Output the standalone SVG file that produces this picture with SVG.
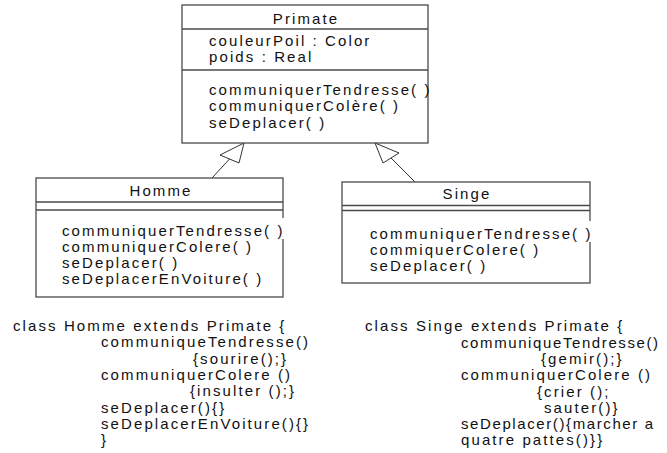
<svg xmlns="http://www.w3.org/2000/svg" width="667" height="453" viewBox="0 0 667 453">
  <style>
    .box { fill: #ffffff; stroke: #4a4a4a; stroke-width: 1.3; }
    .sep { stroke: #4a4a4a; stroke-width: 1.3; }
    .t { font-family: "Liberation Sans", Arial, sans-serif; font-size: 15px; letter-spacing: 2.1px; fill: #111111; }
    .c { text-anchor: middle; }
    .tight { letter-spacing: 1.6px; }
    .edge { fill: none; stroke: #333333; stroke-width: 1; }
    .head { fill: #ffffff; stroke: #333333; stroke-width: 1; }
    .mask { fill: #ffffff; }
  </style>
  <rect width="667" height="453" fill="#ffffff"/>

  <!-- generalisation arrows -->
  <g id="connectors">
    <line class="edge" x1="212" y1="178" x2="229.5" y2="159"/>
    <polygon class="head" points="244,143 220,155 239,163"/>
    <line class="edge" x1="415" y1="182" x2="391" y2="158"/>
    <polygon class="head" points="375,143 383,163 399,153"/>
  </g>

  <g id="primate">
    <rect class="box" x="182" y="5" width="246" height="138"/>
    <line class="sep" x1="182" y1="29" x2="428" y2="29"/>
    <line class="sep" x1="182" y1="70" x2="428" y2="70"/>
    <text class="t c" x="306" y="24">Primate</text>
    <text class="t" x="209" y="46">couleurPoil : Color</text>
    <text class="t" x="209" y="62">poids : Real</text>
    <text class="t" x="209" y="95">communiquerTendresse( )</text>
    <text class="t" x="209" y="111">communiquerColère( )</text>
    <text class="t" x="209" y="128">seDeplacer( )</text>
  </g>

  <g id="homme">
    <rect class="box" x="36" y="178" width="247" height="119"/>
    <line class="sep" x1="36" y1="202" x2="283" y2="202"/>
    <line class="sep" x1="36" y1="210" x2="283" y2="210"/>
    <rect class="mask" x="280" y="218" width="8" height="21"/>
    <text class="t c" x="161" y="196">Homme</text>
    <text class="t" x="62" y="236">communiquerTendresse( )</text>
    <text class="t" x="62" y="252">communiquerColere( )</text>
    <text class="t" x="62" y="268">seDeplacer( )</text>
    <text class="t" x="62" y="284">seDeplacerEnVoiture( )</text>
  </g>

  <g id="singe">
    <rect class="box" x="342" y="182" width="248" height="101"/>
    <line class="sep" x1="342" y1="205.5" x2="590" y2="205.5"/>
    <line class="sep" x1="342" y1="210.5" x2="590" y2="210.5"/>
    <rect class="mask" x="587" y="221" width="8" height="21"/>
    <text class="t c" x="467" y="199">Singe</text>
    <text class="t" x="370" y="239">communiquerTendresse( )</text>
    <text class="t" x="370" y="255">commiquerColere( )</text>
    <text class="t" x="370" y="271">seDeplacer( )</text>
  </g>

  <!-- Java code for Homme -->
  <g id="code-homme">
    <text class="t" x="13" y="331">class Homme extends Primate {</text>
    <text class="t" x="101" y="347">communiqueTendresse()</text>
    <text class="t" x="193" y="363.5">{sourire();}</text>
    <text class="t" x="101" y="380">communiquerColere ()</text>
    <text class="t" x="190" y="396">{insulter ();}</text>
    <text class="t" x="101" y="412.5">seDeplacer(){}</text>
    <text class="t" x="101" y="429">seDeplacerEnVoiture(){}</text>
    <text class="t" x="101" y="445">}</text>
  </g>

  <!-- Java code for Singe -->
  <g id="code-singe">
    <text class="t" x="365" y="331">class Singe extends Primate {</text>
    <text class="t tight" x="461" y="347.5">communiqueTendresse()</text>
    <text class="t" x="541" y="364">{gemir();}</text>
    <text class="t" x="461" y="380">communiquerColere ()</text>
    <text class="t" x="537" y="396.5">{crier ();</text>
    <text class="t" x="544" y="412.5">sauter()}</text>
    <text class="t tight" x="461" y="428.5">seDeplacer(){marcher a</text>
    <text class="t" x="461" y="444.5">quatre pattes()}}</text>
  </g>
</svg>
